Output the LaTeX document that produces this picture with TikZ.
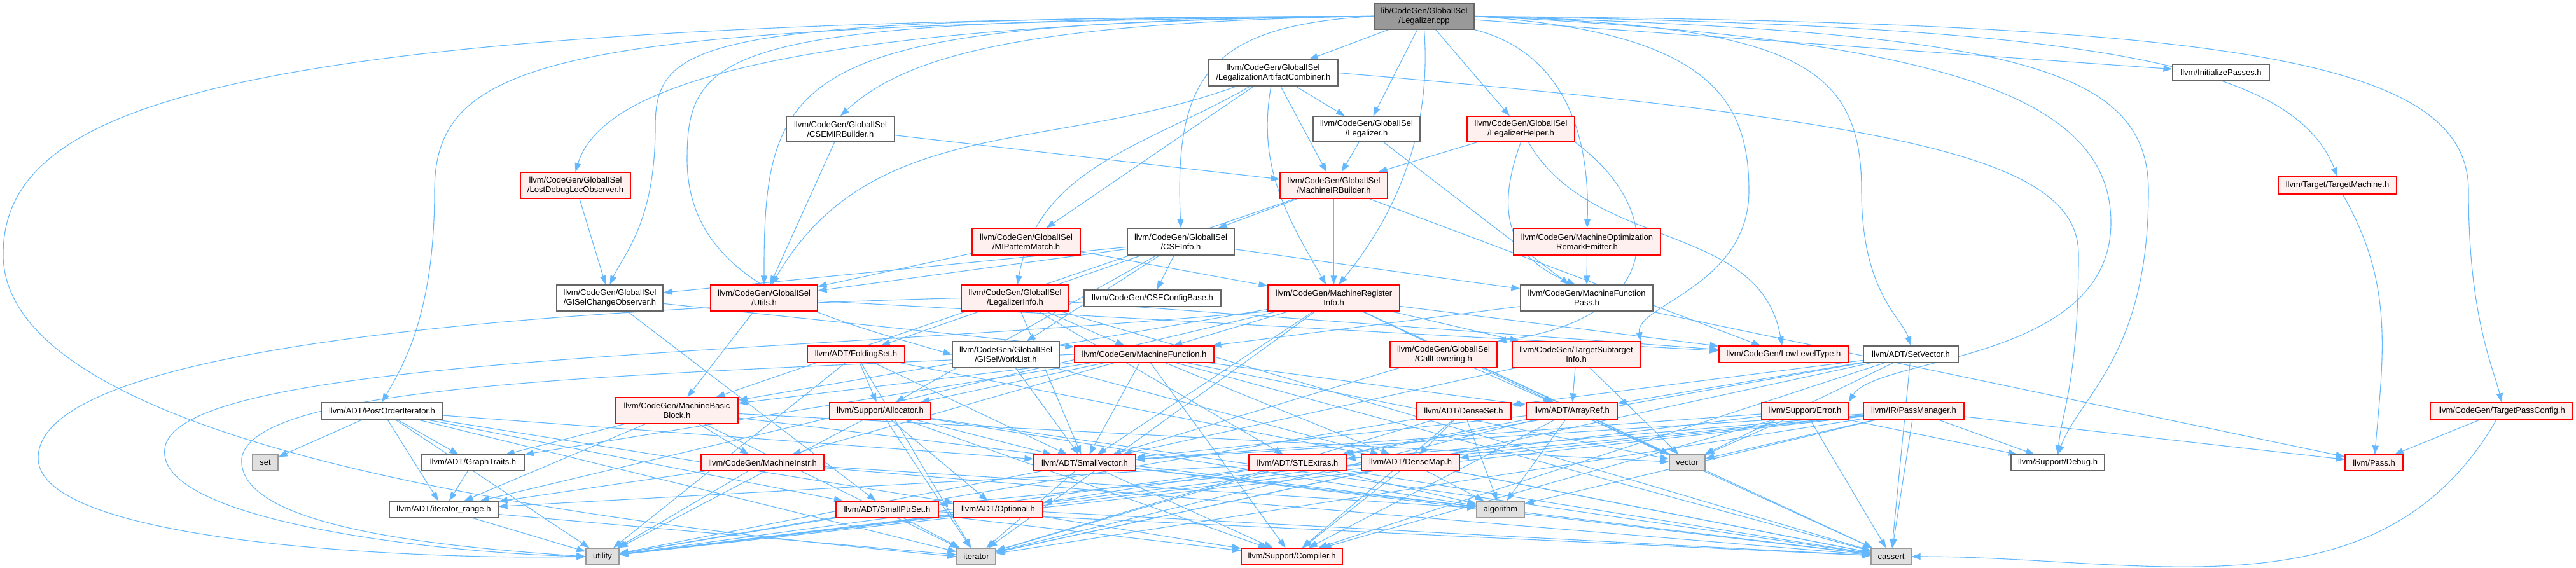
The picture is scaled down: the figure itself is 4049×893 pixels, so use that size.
\documentclass[tikz,border=0pt]{standalone}
\usepackage{fontspec}
\setmainfont{Liberation Sans}
\usetikzlibrary{arrows.meta}
\definecolor{edgecol}{HTML}{63B8FF}
\definecolor{grayforty}{HTML}{666666}
\definecolor{graysixty}{HTML}{999999}
\definecolor{pinkfill}{HTML}{FFF0F0}
\definecolor{sysfill}{HTML}{E0E0E0}
\definecolor{rootfill}{HTML}{999999}
\pgfdeclarelayer{edges}
\pgfsetlayers{edges,main}
\tikzset{
 base/.style={draw, inner sep=0pt, align=center, font=\fontsize{6.5}{7.5}\selectfont, line width=0.6pt},
 plainbox/.style={base, draw=grayforty, fill=white},
 redbox/.style={base, draw=red, fill=pinkfill},
 sysbox/.style={base, draw=graysixty, fill=sysfill},
 rootbox/.style={base, draw=grayforty, fill=rootfill},
 e/.style={draw=edgecol, line width=0.55pt, -{Triangle[length=7pt,width=5pt]}},
}
\newcommand\nd[7]{\node[#6, minimum width={(#4-#2)*0.5pt}, minimum height={(#5-#3)*0.5pt}] (#1) at ({(#2+#4)/2},{(#3+#5)/2}) {#7};}
\newcommand\ed[3][]{\draw[e] (#2) to[#1] (#3);}
\begin{document}
\begin{tikzpicture}[x=0.5pt,y=-0.5pt]
\useasboundingbox (0,0) rectangle (4049,893);
% nodes
\nd{root}{2160}{5}{2317}{46}{rootbox}{lib/CodeGen/GlobalISel\\/Legalizer.cpp}
\nd{LAC}{1900}{94}{2103}{135}{plainbox}{llvm/CodeGen/GlobalISel\\/LegalizationArtifactCombiner.h}
\nd{InitP}{3415}{101}{3567}{127}{plainbox}{llvm/InitializePasses.h}
\nd{CSEMIRB}{1236}{183}{1406}{223}{plainbox}{llvm/CodeGen/GlobalISel\\/CSEMIRBuilder.h}
\nd{LegH}{2064}{183}{2232}{223}{plainbox}{llvm/CodeGen/GlobalISel\\/Legalizer.h}
\nd{LHelp}{2306}{183}{2475}{223}{redbox}{llvm/CodeGen/GlobalISel\\/LegalizerHelper.h}
\nd{LDLO}{818}{271}{991}{312}{redbox}{llvm/CodeGen/GlobalISel\\/LostDebugLocObserver.h}
\nd{MIRB}{2012}{271}{2181}{312}{redbox}{llvm/CodeGen/GlobalISel\\/MachineIRBuilder.h}
\nd{TM}{3581}{278}{3767}{305}{redbox}{llvm/Target/TargetMachine.h}
\nd{MIPM}{1528}{359}{1698}{401}{redbox}{llvm/CodeGen/GlobalISel\\/MIPatternMatch.h}
\nd{CSEI}{1772}{359}{1940}{401}{plainbox}{llvm/CodeGen/GlobalISel\\/CSEInfo.h}
\nd{MORE}{2379}{359}{2610}{401}{redbox}{llvm/CodeGen/MachineOptimization\\RemarkEmitter.h}
\nd{GCO}{875}{448}{1042}{489}{plainbox}{llvm/CodeGen/GlobalISel\\/GISelChangeObserver.h}
\nd{Utils}{1117}{448}{1285}{489}{redbox}{llvm/CodeGen/GlobalISel\\/Utils.h}
\nd{LInfo}{1511}{448}{1680}{489}{redbox}{llvm/CodeGen/GlobalISel\\/LegalizerInfo.h}
\nd{CSECB}{1704}{456}{1919}{482}{plainbox}{llvm/CodeGen/CSEConfigBase.h}
\nd{MRI}{1993}{448}{2200}{489}{redbox}{llvm/CodeGen/MachineRegister\\Info.h}
\nd{MFP}{2390}{448}{2598}{489}{plainbox}{llvm/CodeGen/MachineFunction\\Pass.h}
\nd{FSet}{1269}{544}{1422}{570}{redbox}{llvm/ADT/FoldingSet.h}
\nd{GWL}{1497}{537}{1665}{578}{plainbox}{llvm/CodeGen/GlobalISel\\/GISelWorkList.h}
\nd{MF}{1689}{544}{1908}{570}{redbox}{llvm/CodeGen/MachineFunction.h}
\nd{CallL}{2185}{537}{2353}{578}{redbox}{llvm/CodeGen/GlobalISel\\/CallLowering.h}
\nd{TSI}{2377}{537}{2578}{578}{redbox}{llvm/CodeGen/TargetSubtarget\\Info.h}
\nd{LLT}{2702}{544}{2905}{570}{redbox}{llvm/CodeGen/LowLevelType.h}
\nd{SetV}{2929}{544}{3078}{570}{plainbox}{llvm/ADT/SetVector.h}
\nd{POI}{505}{633}{696}{659}{plainbox}{llvm/ADT/PostOrderIterator.h}
\nd{MBB}{968}{625}{1160}{666}{redbox}{llvm/CodeGen/MachineBasic\\Block.h}
\nd{Alloc}{1304}{633}{1463}{659}{redbox}{llvm/Support/Allocator.h}
\nd{DSet}{2226}{633}{2375}{659}{redbox}{llvm/ADT/DenseSet.h}
\nd{ARef}{2399}{633}{2542}{659}{redbox}{llvm/ADT/ArrayRef.h}
\nd{Err}{2769}{633}{2905}{659}{redbox}{llvm/Support/Error.h}
\nd{PM}{2929}{633}{3087}{659}{redbox}{llvm/IR/PassManager.h}
\nd{TPC}{3820}{633}{4044}{659}{redbox}{llvm/CodeGen/TargetPassConfig.h}
\nd{set}{397}{715}{437}{740}{sysbox}{set}
\nd{GT}{663}{715}{824}{740}{plainbox}{llvm/ADT/GraphTraits.h}
\nd{MI}{1102}{715}{1295}{740}{redbox}{llvm/CodeGen/MachineInstr.h}
\nd{SV}{1625}{715}{1785}{740}{redbox}{llvm/ADT/SmallVector.h}
\nd{STL}{1963}{715}{2116}{740}{redbox}{llvm/ADT/STLExtras.h}
\nd{DMap}{2140}{715}{2294}{740}{redbox}{llvm/ADT/DenseMap.h}
\nd{vector}{2624}{715}{2680}{740}{sysbox}{vector}
\nd{Debug}{3161}{715}{3308}{740}{plainbox}{llvm/Support/Debug.h}
\nd{Pass}{3686}{715}{3777}{740}{redbox}{llvm/Pass.h}
\nd{IR}{612}{788}{783}{814}{plainbox}{llvm/ADT/iterator\_range.h}
\nd{SPS}{1314}{788}{1475}{814}{redbox}{llvm/ADT/SmallPtrSet.h}
\nd{Opt}{1499}{788}{1639}{814}{redbox}{llvm/ADT/Optional.h}
\nd{algo}{2321}{788}{2396}{814}{sysbox}{algorithm}
\nd{util}{921}{862}{973}{888}{sysbox}{utility}
\nd{iter}{1504}{862}{1565}{888}{sysbox}{iterator}
\nd{Comp}{1951}{862}{2110}{888}{redbox}{llvm/Support/Compiler.h}
\nd{cassert}{2941}{862}{3004}{888}{sysbox}{cassert}
\begin{pgfonlayer}{edges}
% root
\ed{root}{LAC}
\ed{root}{LegH}
\ed{root}{LHelp}
\draw[e] (root.south) .. controls (2250,200) and (2200,330) .. (MRI.70);
\draw[e] (root.south east) .. controls (2450,80) and (2500,200) .. (MORE.north);
\draw[e] (root.east) .. controls (2680,50) and (2749,150) .. (2749,300) .. controls (2749,450) and (2570,480) .. (TSI.north east);
\draw[e] (root.east) .. controls (2820,40) and (2926,100) .. (2926,300) .. controls (2926,460) and (2990,500) .. (SetV.north);
\ed{root}{InitP}
\draw[e] (root.east) .. controls (3250,40) and (3600,90) .. (TM.north);
\draw[e] (root.east) .. controls (3150,50) and (3377,100) .. (3377,300) .. controls (3377,560) and (3270,620) .. (Debug.north);
\draw[e] (root.east) .. controls (3050,60) and (3318,150) .. (3318,350) .. controls (3318,570) and (2950,560) .. (Err.north east);
\draw[e] (root.east) .. controls (3500,35) and (3880,90) .. (3880,300) .. controls (3880,500) and (3920,580) .. (TPC.north);
\draw[e] (root.west) .. controls (1900,40) and (1845,120) .. (CSEI.north);
\draw[e] (root.west) .. controls (1600,35) and (1420,90) .. (CSEMIRB.north);
\draw[e] (root.west) .. controls (1250,35) and (1200,100) .. (Utils.north);
\draw[e] (root.west) .. controls (1150,30) and (1080,70) .. (1080,250) .. controls (1080,450) and (1300,500) .. (GWL.west);
\draw[e] (root.west) .. controls (1100,28) and (1030,60) .. (1030,200) .. controls (1030,350) and (980,400) .. (GCO.north);
\draw[e] (root.west) .. controls (1300,35) and (950,120) .. (LDLO.north);
\draw[e] (root.west) .. controls (900,40) and (683,80) .. (683,300) .. controls (683,500) and (630,580) .. (POI.north);
\draw[e] (root.west) .. controls (400,30) and (5,150) .. (5,400) .. controls (5,700) and (900,820) .. (iter.west);
% LAC
\ed{LAC}{LegH}
\ed{LAC}{MIRB}
\ed[out=-150,in=80]{LAC}{LInfo}
\ed{LAC}{MIPM}
\ed[out=-160,in=60]{LAC}{Utils}
\ed[out=-100,in=120]{LAC}{MRI}
\draw[e] (LAC.east) .. controls (3000,190) and (3267,250) .. (3267,400) .. controls (3267,600) and (3240,650) .. (Debug.north);
% CSEMIRB, LegH, LHelp, LDLO
\ed{CSEMIRB}{MIRB}
\ed{CSEMIRB}{Utils}
\ed{LegH}{MIRB}
\ed{LegH}{MFP}
\ed{LHelp}{MIRB}
\draw[e] (LHelp.south) .. controls (2355,320) and (2360,400) .. (MFP.130);
\draw[e] (LHelp.south east) .. controls (2620,330) and (2620,500) .. (CallL.north east);
\ed[out=-60,in=100]{LHelp}{LLT}
\ed{LDLO}{GCO}
% MIRB
\ed{MIRB}{CSEI}
\ed{MIRB}{MRI}
\ed{MIRB}{MBB}
\ed{MIRB}{LLT}
% MIPM
\ed{MIPM}{Utils}
\ed{MIPM}{MRI}
% CSEI
\ed{CSEI}{CSECB}
\ed{CSEI}{GCO}
\ed{CSEI}{GWL}
\ed{CSEI}{Utils}
\ed{CSEI}{MFP}
\ed{CSEI}{FSet}
\ed{CSEI}{Alloc}
% MORE
\ed{MORE}{MFP}
% GCO, Utils
\ed{GCO}{MF}
\ed{GCO}{SPS}
\ed{Utils}{MBB}
\ed{Utils}{LLT}
% LInfo
\ed{LInfo}{MF}
\ed{LInfo}{SV}
\ed{LInfo}{STL}
\ed{LInfo}{LLT}
\ed{LInfo}{cassert}
\draw[e] (LInfo.west) .. controls (700,490) and (60,560) .. (60,720) .. controls (60,860) and (700,880) .. (util.west);
% MRI
\ed{MRI}{ARef}
\ed{MRI}{SV}
\ed{MRI}{IR}
\ed{MRI}{LLT}
\ed{MRI}{MBB}
\ed{MRI}{MF}
\ed{MRI}{TSI}
\ed{MRI}{cassert}
\ed{MRI}{iter}
\draw[e] (MRI.south west) .. controls (1200,560) and (300,560) .. (260,700) .. controls (230,820) and (700,870) .. (util.west);
\ed{MRI}{vector}
% MFP
\ed{MFP}{MF}
\ed{MFP}{Pass}
% FSet
\ed{FSet}{SV}
\ed{FSet}{Alloc}
\ed{FSet}{iter}
\ed{FSet}{cassert}
\ed{FSet}{util}
% GWL
\ed{GWL}{DMap}
\ed{GWL}{SV}
% MF
\ed{MF}{MBB}
\ed{MF}{ARef}
\ed{MF}{DMap}
\ed{MF}{GT}
\ed{MF}{SV}
\ed{MF}{MI}
\ed{MF}{Alloc}
\ed{MF}{Comp}
\ed{MF}{cassert}
\draw[e] (MF.west) .. controls (1000,590) and (400,600) .. (380,720) .. controls (370,830) and (700,860) .. (util.west);
\ed{MF}{vector}
% CallL, TSI
\ed{CallL}{ARef}
\ed{CallL}{SV}
\ed{TSI}{ARef}
\ed{TSI}{vector}
\ed{TSI}{SV}
% SetV
\ed{SetV}{ARef}
\ed{SetV}{DSet}
\ed{SetV}{STL}
\ed{SetV}{Comp}
\ed{SetV}{cassert}
\ed{SetV}{iter}
\ed{SetV}{vector}
% POI
\ed{POI}{set}
\ed{POI}{GT}
\ed{POI}{IR}
\ed{POI}{SV}
\ed{POI}{SPS}
\ed{POI}{Opt}
\ed{POI}{iter}
\ed{POI}{util}
% MBB
\ed{MBB}{GT}
\ed{MBB}{IR}
\ed{MBB}{MI}
\ed{MBB}{iter}
\ed{MBB}{cassert}
\ed{MBB}{vector}
% Alloc
\ed{Alloc}{SV}
\ed{Alloc}{Opt}
\ed{Alloc}{Comp}
\ed{Alloc}{algo}
\ed{Alloc}{cassert}
\ed{Alloc}{iter}
\ed{Alloc}{util}
% DSet
\ed{DSet}{DMap}
\ed{DSet}{algo}
\ed{DSet}{iter}
\ed{DSet}{Comp}
\ed{DSet}{util}
% ARef
\ed{ARef}{SV}
\ed{ARef}{STL}
\ed{ARef}{Comp}
\ed{ARef}{algo}
\ed{ARef}{cassert}
\ed{ARef}{iter}
\ed{ARef}{vector}
% Err
\ed{Err}{SV}
\ed{Err}{Comp}
\ed{Err}{Debug}
\ed{Err}{cassert}
\ed{Err}{util}
\ed{Err}{vector}
% PM
\ed{PM}{DMap}
\ed{PM}{SPS}
\ed{PM}{SV}
\ed{PM}{STL}
\ed{PM}{Debug}
\ed{PM}{Pass}
\ed{PM}{cassert}
\ed{PM}{iter}
\ed{PM}{util}
\ed{PM}{vector}
\ed{PM}{algo}
% TPC, TM
\ed{TPC}{Pass}
\ed[out=-120,in=0]{TPC}{cassert}
\ed[out=-60,in=85]{TM}{Pass}
% MI
\ed{MI}{IR}
\ed{MI}{algo}
\ed{MI}{cassert}
\ed{MI}{util}
% SV
\ed{SV}{Comp}
\ed{SV}{algo}
\ed{SV}{cassert}
\ed{SV}{iter}
\ed{SV}{util}
% STL
\ed{STL}{IR}
\ed{STL}{Opt}
\ed{STL}{algo}
\ed{STL}{cassert}
\ed{STL}{iter}
\ed{STL}{util}
% DMap
\ed{DMap}{Comp}
\ed{DMap}{algo}
\ed{DMap}{cassert}
\ed{DMap}{iter}
\ed{DMap}{util}
% small ones
\ed{GT}{IR}
\ed{IR}{util}
\ed{IR}{iter}
\ed{SPS}{Comp}
\ed{SPS}{cassert}
\ed{SPS}{iter}
\ed{SPS}{util}
\ed{Opt}{Comp}
\ed{Opt}{cassert}
\ed{Opt}{util}
\end{pgfonlayer}
\end{tikzpicture}
\end{document}
